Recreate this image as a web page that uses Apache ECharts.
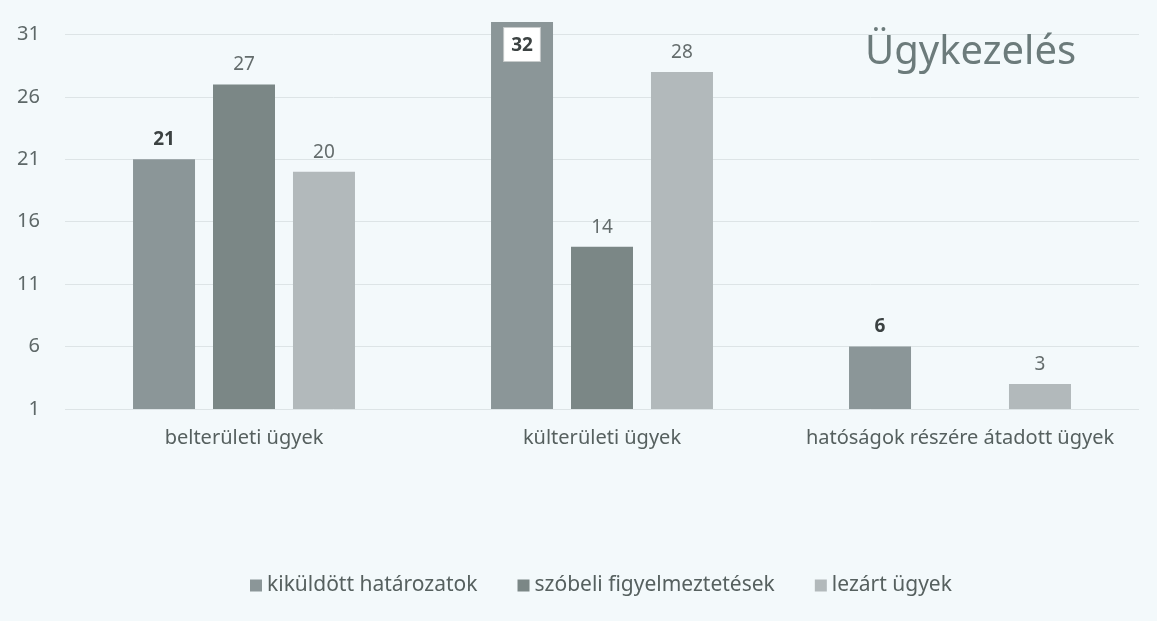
<!DOCTYPE html>
<html>
<head>
<meta charset="utf-8">
<script src="https://cdn.jsdelivr.net/npm/echarts@6/dist/echarts.min.js"></script>
<style>
  html, body { margin: 0; padding: 0; background: #f3f9fb; }
  #main { width: 1157px; height: 621px; }
</style>
</head>
<body>
<div id="main"></div>
<script>
const categories = ['belterületi ügyek', 'külterületi ügyek', 'hatóságok részére átadott ügyek'];
const seriesNames = ['kiküldött határozatok', 'szóbeli figyelmeztetések', 'lezárt ügyek'];
const hatarozatok = [21, 32, 6];
const figyelmeztetesek = [27, 14, 1];
const lezart = [20, 28, 3];

const chart = echarts.init(document.getElementById('main'));
const font = 'Noto Sans';

// the 32 label sits inside the bar in a white box
const hatarozatokData = hatarozatok.map((v, i) => i === 1 ? {
  value: v,
  label: {
    position: 'insideTop', distance: 6, backgroundColor: '#ffffff',
    borderColor: '#c8cccc', borderWidth: 1, padding: [8, 7, 6, 7]
  }
} : v);
// empty bar in the last group has no label
const figyelmeztetesekData = figyelmeztetesek.map((v, i) => i === 2 ? { value: v, label: { show: false } } : v);

const options = {
  backgroundColor: '#f3f9fb',
  title: {
    text: 'Ügykezelés',
    left: 860,
    top: 28,
    textStyle: { fontFamily: font, fontSize: 40, fontWeight: 'normal', color: '#6c7b7b' }
  },
  legend: {
    top: 570,
    left: 245,
    icon: 'rect',
    itemWidth: 12,
    itemHeight: 12,
    itemGap: 40,
    textStyle: { fontFamily: font, fontSize: 21, color: '#56605f' },
    data: seriesNames
  },
  grid: { left: 65, right: 18, top: 22, bottom: 212 },
  xAxis: {
    type: 'category',
    data: categories,
    axisLine: { show: false },
    axisTick: { show: false },
    axisLabel: { interval: 0, fontFamily: font, fontSize: 20, color: '#56605f', margin: 19 }
  },
  yAxis: {
    type: 'value',
    min: 1,
    max: 32,
    interval: 5,
    axisLabel: { fontFamily: font, fontSize: 20, color: '#5e6868', margin: 25, showMaxLabel: false },
    splitLine: { lineStyle: { color: '#dde4e6' }, showMaxLine: false }
  },
  series: [
    {
      name: seriesNames[0], type: 'bar', data: hatarozatokData,
      barWidth: 62, barGap: '29%',
      itemStyle: { color: '#8b9698' },
      label: { show: true, position: 'top', distance: 10, fontFamily: font, fontSize: 19, fontWeight: 'bold', color: '#3c4242' }
    },
    {
      name: seriesNames[1], type: 'bar', data: figyelmeztetesekData,
      barWidth: 62, barGap: '29%',
      itemStyle: { color: '#7b8786' },
      label: { show: true, position: 'top', distance: 10, fontFamily: font, fontSize: 19, color: '#646c6c' }
    },
    {
      name: seriesNames[2], type: 'bar', data: lezart,
      barWidth: 62, barGap: '29%',
      itemStyle: { color: '#b2b9bb' },
      label: { show: true, position: 'top', distance: 10, fontFamily: font, fontSize: 19, color: '#646c6c' }
    }
  ]
};

chart.setOption(options);
</script>
</body>
</html>
